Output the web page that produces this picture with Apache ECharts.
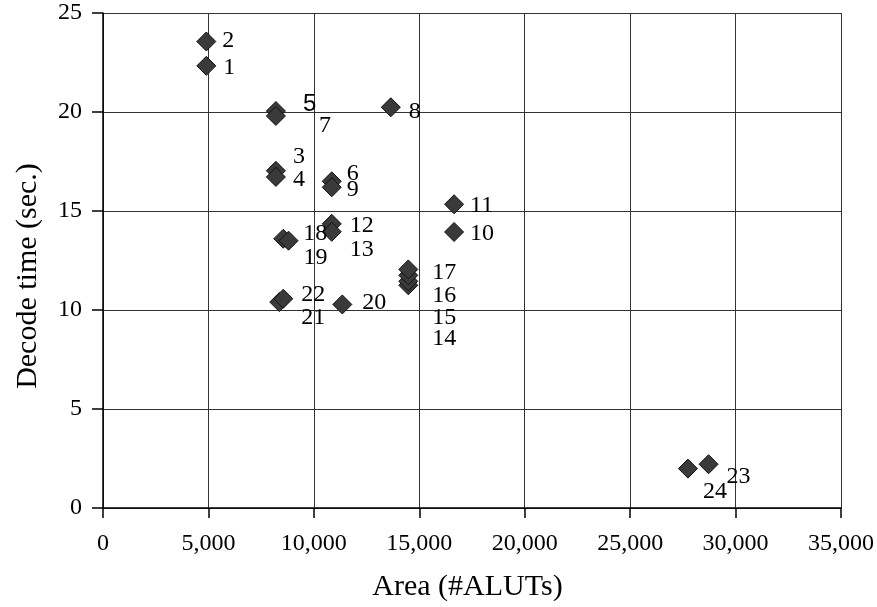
<!DOCTYPE html>
<html>
<head>
<meta charset="utf-8">
<script src="https://cdn.jsdelivr.net/npm/echarts@6/dist/echarts.min.js"></script>
<style>
  html, body { margin: 0; padding: 0; background: #fff; }
  #chart { width: 877px; height: 607px; }
</style>
</head>
<body>
<div id="chart"></div>
<script>
// data
var pointIds = ['1','2','3','4','5','6','7','8','9','10','11','12','13','14','15','16','17','18','19','20','21','22','23','24'];
var areaValues = [4900, 4900, 8200, 8200, 8200, 10850, 8200, 13650, 10850, 16650, 16650, 10850, 10850, 14480, 14480, 14480, 14480, 8550, 8800, 11350, 8360, 8550, 28720, 27740];
var timeValues = [22.33, 23.56, 17.03, 16.72, 20.05, 16.5, 19.8, 20.24, 16.2, 13.94, 15.34, 14.35, 13.95, 11.25, 11.45, 11.75, 12.05, 13.6, 13.5, 10.28, 10.4, 10.57, 2.21, 1.99];
var xTicks = [0, 5000, 10000, 15000, 20000, 25000, 30000, 35000];
var yTicks = [0, 5, 10, 15, 20, 25];

// label placement (pixel shift from the default right position)
var labelOffsets = {
  '1': [2, 2], '2': [1, -1], '3': [2, -14], '4': [2, 3], '5': [12, -7],
  '6': [0, -8], '7': [28, 10], '8': [3, 4], '9': [0, 2], '10': [1, 2],
  '11': [1, 1], '12': [3, 2], '13': [3, 18], '14': [9, 53], '15': [9, 36],
  '16': [9, 20], '17': [9, 3], '18': [5, -5], '19': [0, 17], '20': [5, -2],
  '21': [7, 16], '22': [3, -4], '23': [3, 12], '24': [0, 23]
};

var serif = 'Liberation Serif';

var points = pointIds.map(function (id, i) {
  var item = { name: id, value: [areaValues[i], timeValues[i]] };
  if (id === '5') {
    item.label = { fontFamily: 'Liberation Sans' };
  }
  return item;
});

var myChart = echarts.init(document.getElementById('chart'));

var option = {
  animation: false,
  backgroundColor: '#fff',
  grid: { left: 103, right: 36, top: 13, bottom: 99 },
  xAxis: {
    type: 'value',
    min: xTicks[0],
    max: xTicks[xTicks.length - 1],
    interval: 5000,
    name: 'Area (#ALUTs)',
    nameLocation: 'middle',
    nameGap: 64,
    nameTextStyle: { fontFamily: serif, fontSize: 30, color: '#000', padding: [0, 9, 0, 0] },
    axisLine: { show: true, lineStyle: { color: '#000', width: 1.5 } },
    axisTick: { show: true, inside: false, length: 10, lineStyle: { color: '#000', width: 1.5 } },
    axisLabel: {
      fontFamily: serif, fontSize: 24, color: '#000', margin: 24,
      formatter: function (v) { return v.toLocaleString('en-US'); }
    },
    splitLine: { show: true, lineStyle: { color: '#333', width: 1 } }
  },
  yAxis: {
    type: 'value',
    min: yTicks[0],
    max: yTicks[yTicks.length - 1],
    interval: 5,
    name: 'Decode time (sec.)',
    nameLocation: 'middle',
    nameGap: 60,
    nameTextStyle: { fontFamily: serif, fontSize: 30, color: '#000', padding: [0, 31, 0, 0] },
    axisLine: { show: true, lineStyle: { color: '#000', width: 1.5 } },
    axisTick: { show: true, inside: false, length: 11, lineStyle: { color: '#000', width: 1.5 } },
    axisLabel: { fontFamily: serif, fontSize: 24, color: '#000', margin: 21 },
    splitLine: { show: true, lineStyle: { color: '#333', width: 1 } }
  },
  series: [
    {
      type: 'scatter',
      symbol: 'diamond',
      symbolSize: [19, 19],
      itemStyle: { color: '#3a3a3a', borderColor: '#111', borderWidth: 1, opacity: 1 },
      label: {
        show: true,
        position: 'right',
        distance: 5,
        fontFamily: serif,
        fontSize: 24,
        color: '#000',
        formatter: '{b}'
      },
      labelLayout: function (params) {
        var off = labelOffsets[pointIds[params.dataIndex]] || [0, 0];
        return { dx: off[0], dy: off[1], hideOverlap: false };
      },
      data: points
    }
  ]
};

myChart.setOption(option);
</script>
</body>
</html>
